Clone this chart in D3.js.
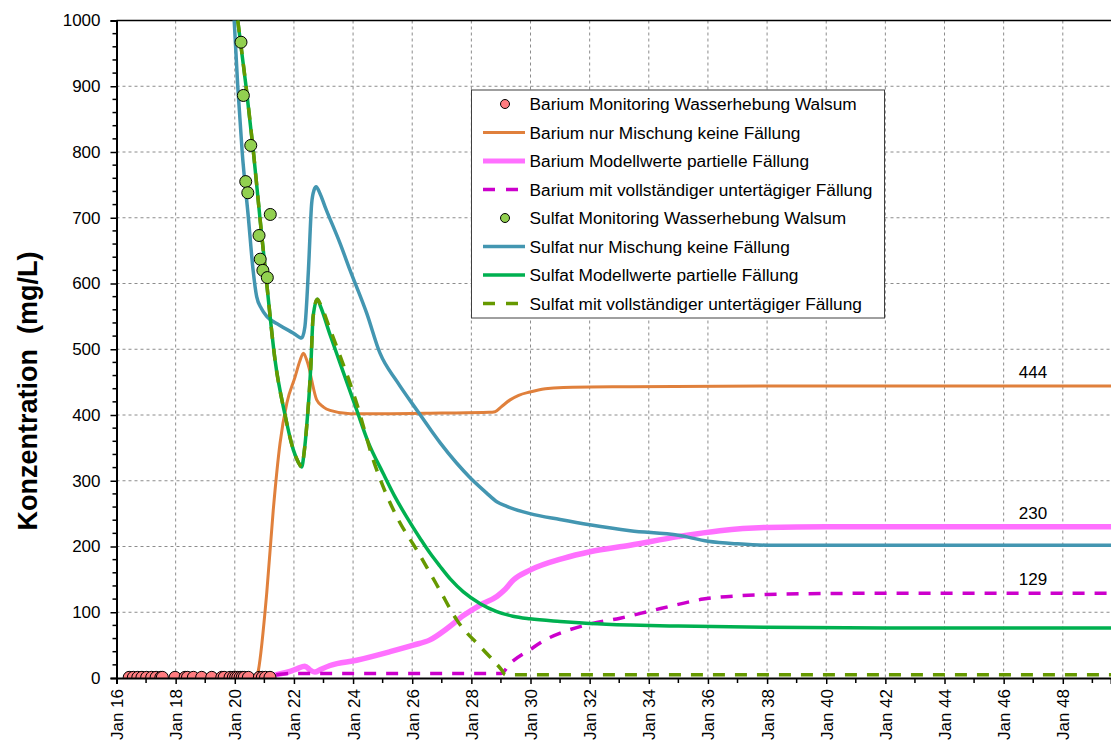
<!DOCTYPE html>
<html>
<head>
<meta charset="utf-8">
<script src="https://cdn.jsdelivr.net/npm/d3@7"></script>
<style>
  body { margin: 0; background: #fff; }
  svg { display: block; font-family: "Liberation Sans", Arial, sans-serif; }
</style>
</head>
<body>
<svg id="chart" width="1111" height="745"></svg>
<script>
// ---- Data: x = day (Jan n, counted on past month end), y = concentration in mg/L ----
const bariumMonitoring = [
  [16.43, 1], [16.57, 1], [16.72, 1], [16.86, 1], [17.02, 1], [17.19, 1], [17.34, 1], [17.50, 1], [17.55, 1],
  [17.98, 1], [18.32, 1], [18.40, 1], [18.60, 1], [18.88, 1], [19.22, 1], [19.56, 1], [19.64, 1], [19.84, 1],
  [19.95, 1], [20.03, 1], [20.10, 1], [20.18, 1], [20.25, 1], [20.32, 1], [20.46, 1], [20.83, 1], [20.93, 1],
  [21.04, 1], [21.19, 1]
];
const bariumMischung = [
  [20.74, 0], [20.80, 12], [21.08, 129], [21.30, 255], [21.53, 357], [21.76, 418], [22.04, 458], [22.20, 482],
  [22.32, 494], [22.43, 484], [22.52, 470], [22.60, 453], [22.77, 423], [23.00, 412], [23.22, 407], [23.90, 402],
  [25.00, 402], [27.00, 403], [28.60, 404], [28.80, 405], [29.00, 412], [29.31, 423], [29.60, 430], [29.98, 435],
  [30.50, 440], [31.11, 442], [33.37, 443], [38.00, 444], [49.70, 444]
];
const bariumPartiell = [
  [21.00, 0], [21.30, 4], [21.87, 10], [22.10, 14], [22.37, 18], [22.55, 12], [22.71, 9], [22.90, 13], [23.22, 19],
  [24.12, 27], [25.25, 40], [26.04, 50], [26.60, 58], [27.20, 76], [27.73, 95], [28.30, 111], [28.86, 124],
  [29.10, 133], [29.42, 149], [29.98, 164], [31.11, 182], [32.01, 192], [33.37, 202], [35.00, 215], [36.40, 224],
  [38.00, 229], [40.00, 230], [49.70, 230]
];
const bariumVollstaendig = [
  [21.40, 5], [22.00, 7], [29.00, 7], [29.31, 22], [29.98, 43], [30.50, 58], [31.11, 70], [32.00, 82], [33.03, 91],
  [34.15, 103], [35.00, 112], [35.84, 120], [37.00, 125], [38.00, 127], [40.00, 128.5], [43.00, 129], [49.70, 129]
];
const sulfatMonitoring = [
  [20.21, 967], [20.29, 886], [20.37, 755], [20.44, 738], [20.54, 810], [20.82, 673], [20.86, 637],
  [20.95, 620], [21.10, 609], [21.20, 705]
];
const sulfatMischung = [
  [19.98, 1000], [20.10, 900], [20.25, 800], [20.46, 700], [20.62, 620], [20.74, 580], [20.90, 562], [21.08, 550],
  [21.50, 537], [22.00, 524], [22.26, 517], [22.37, 534], [22.49, 620], [22.60, 722], [22.68, 742], [22.75, 747],
  [22.88, 737], [23.05, 717], [23.56, 661], [23.90, 620], [24.46, 555], [24.91, 494], [25.50, 450],
  [26.21, 404], [26.60, 379], [26.94, 358], [27.50, 327], [27.95, 305], [28.50, 282], [28.86, 268], [29.20, 261],
  [29.98, 250], [31.00, 241], [32.00, 233], [33.37, 224], [35.00, 217], [36.00, 208], [37.00, 204], [38.00, 202],
  [49.70, 202]
];
const sulfatPartiell = [
  [20.10, 1000], [20.38, 900], [20.63, 800], [20.85, 700], [21.08, 600], [21.36, 484], [21.70, 400], [21.98, 347],
  [22.15, 328], [22.26, 321], [22.35, 345], [22.43, 382], [22.57, 473], [22.65, 550], [22.79, 576], [22.90, 565],
  [23.20, 525], [23.56, 479], [24.12, 408], [24.50, 360], [25.02, 311], [25.40, 277], [25.81, 245], [26.30, 210],
  [26.60, 190], [26.94, 170], [27.30, 150], [27.73, 131], [28.30, 113], [28.86, 101], [29.40, 94], [29.98, 90],
  [31.00, 86], [32.00, 83], [33.37, 80.6], [35.00, 79], [38.00, 77], [42.00, 76], [49.70, 76]
];
const sulfatVollstaendig = [
  [20.10, 1000], [20.38, 900], [20.63, 800], [20.85, 700], [21.08, 600], [21.36, 484], [21.70, 400], [21.98, 347],
  [22.15, 328], [22.26, 321], [22.35, 345], [22.43, 382], [22.57, 473], [22.65, 550], [22.79, 576], [22.90, 568],
  [23.20, 533], [23.56, 490], [23.90, 448], [24.12, 418], [24.68, 332], [25.48, 245], [26.15, 195], [26.60, 160],
  [26.94, 133], [27.51, 88], [28.40, 43], [29.03, 12], [29.15, 5], [49.70, 5]
];

const xTicks = d3.range(16, 49, 2);            // labelled days
const yTicks = d3.range(0, 1001, 100);
const endLabels = [["444", 444], ["230", 230], ["129", 129]];

const legendLabels = [
  "Barium Monitoring Wasserhebung Walsum",
  "Barium nur Mischung keine Fällung",
  "Barium Modellwerte partielle Fällung",
  "Barium mit vollständiger untertägiger Fällung",
  "Sulfat Monitoring Wasserhebung Walsum",
  "Sulfat nur Mischung keine Fällung",
  "Sulfat Modellwerte partielle Fällung",
  "Sulfat mit vollständiger untertägiger Fällung"
];

(function draw() {
  const svg = d3.select("#chart");
  const pLeft = 116.5, pRight = 1111, pTop = 20.5, pBottom = 678;

  const x = d3.scaleLinear().domain([16, 49.63]).range([pLeft, pRight]);
  const y = d3.scaleLinear().domain([0, 1000]).range([pBottom, pTop]);

  svg.append("defs").append("clipPath").attr("id", "plotClip")
    .append("rect").attr("x", pLeft).attr("y", pTop - 1)
    .attr("width", pRight - pLeft).attr("height", pBottom - pTop + 2);

  // grid
  const grid = svg.append("g");
  grid.selectAll("line.v").data(xTicks.filter(d => d > 16)).join("line").attr("class", "v")
    .attr("x1", d => x(d)).attr("x2", d => x(d)).attr("y1", pTop).attr("y2", pBottom)
    .attr("stroke", "#8c8c8c").attr("stroke-width", 1).attr("stroke-dasharray", "3,3");
  grid.selectAll("line.h").data(yTicks.filter(d => d > 0 && d < 1000)).join("line").attr("class", "h")
    .attr("x1", pLeft).attr("x2", pRight).attr("y1", d => y(d)).attr("y2", d => y(d))
    .attr("stroke", "#8c8c8c").attr("stroke-width", 1).attr("stroke-dasharray", "3,3");

  // top border
  svg.append("line").attr("x1", pLeft).attr("x2", pRight).attr("y1", pTop).attr("y2", pTop)
    .attr("stroke", "#000").attr("stroke-width", 1.5);

  // series
  const line = d3.line().x(d => x(d[0])).y(d => y(d[1])).curve(d3.curveMonotoneX);
  const plot = svg.append("g").attr("clip-path", "url(#plotClip)");

  const seriesStyles = [
    { data: bariumMischung,     color: "#e0803c", width: 3,   dash: null },
    { data: bariumPartiell,     color: "#ff70ff", width: 5.5, dash: null },
    { data: bariumVollstaendig, color: "#cc00cc", width: 3.5, dash: "12,10" },
    { data: sulfatMischung,     color: "#4396b1", width: 3.5, dash: null },
    { data: sulfatPartiell,     color: "#00b050", width: 3.5, dash: null },
    { data: sulfatVollstaendig, color: "#669900", width: 3.5, dash: "12,10" }
  ];
  seriesStyles.forEach(s => {
    plot.append("path").datum(s.data)
      .attr("d", line)
      .attr("fill", "none")
      .attr("stroke", s.color)
      .attr("stroke-width", s.width)
      .attr("stroke-dasharray", s.dash)
      .attr("stroke-linejoin", "round");
  });

  // monitoring points
  plot.append("g").selectAll("circle").data(bariumMonitoring).join("circle")
    .attr("cx", d => x(d[0])).attr("cy", d => y(d[1])).attr("r", 6)
    .attr("fill", "#ff7c80").attr("stroke", "#000").attr("stroke-width", 1);
  plot.append("g").selectAll("circle").data(sulfatMonitoring).join("circle")
    .attr("cx", d => x(d[0])).attr("cy", d => y(d[1])).attr("r", 6)
    .attr("fill", "#92d050").attr("stroke", "#000").attr("stroke-width", 1);

  // y axis
  const yAxis = d3.axisLeft(y).tickValues(yTicks).tickSize(6).tickPadding(10).tickFormat(d3.format("d"));
  const gy = svg.append("g").attr("transform", `translate(${pLeft},0)`).call(yAxis);
  gy.select(".domain").attr("stroke", "#000").attr("stroke-width", 2);
  gy.selectAll(".tick line").attr("stroke", "#000").attr("stroke-width", 1.5);
  gy.selectAll(".tick text").attr("font-size", 17).attr("fill", "#000")
    .attr("font-family", "'Liberation Sans', Arial, sans-serif");
  svg.append("g").selectAll("line").data(d3.range(20, 1000, 20).filter(v => v % 100 !== 0)).join("line")
    .attr("x1", pLeft - 4).attr("x2", pLeft).attr("y1", d => y(d)).attr("y2", d => y(d))
    .attr("stroke", "#000").attr("stroke-width", 1.5);

  // x axis
  const xAxis = d3.axisBottom(x).tickValues(xTicks).tickSize(6).tickFormat(d => "Jan " + d);
  const gx = svg.append("g").attr("transform", `translate(0,${pBottom})`).call(xAxis);
  gx.select(".domain").attr("stroke", "#000").attr("stroke-width", 2);
  gx.selectAll(".tick line").attr("stroke", "#000").attr("stroke-width", 1.5);
  gx.selectAll(".tick text")
    .attr("font-size", 17).attr("fill", "#000")
    .attr("font-family", "'Liberation Sans', Arial, sans-serif")
    .attr("text-anchor", "end")
    .attr("transform", "rotate(-90)")
    .attr("x", -11).attr("y", 0).attr("dy", "0.35em");
  svg.append("g").selectAll("line").data(d3.range(17, 50, 2)).join("line")
    .attr("x1", d => x(d)).attr("x2", d => x(d)).attr("y1", pBottom).attr("y2", pBottom + 5)
    .attr("stroke", "#000").attr("stroke-width", 1.5);

  // y title
  svg.append("text")
    .attr("transform", "translate(37,391) rotate(-90)")
    .attr("text-anchor", "middle")
    .attr("font-size", 27).attr("font-weight", "bold").attr("fill", "#000")
    .style("white-space", "pre")
    .text("Konzentration  (mg/L)");

  // end value labels
  svg.append("g").selectAll("text").data(endLabels).join("text")
    .attr("x", 1033).attr("y", d => y(d[1]) - 8)
    .attr("text-anchor", "middle").attr("font-size", 17).attr("fill", "#000")
    .text(d => d[0]);

  // legend
  const lg = svg.append("g");
  lg.append("rect").attr("x", 471.5).attr("y", 90).attr("width", 413).attr("height", 228)
    .attr("fill", "#fff").attr("stroke", "#404040").attr("stroke-width", 1);
  const legendSym = [
    { type: "dot", fill: "#ff7c80" },
    { type: "line", color: "#e0803c", width: 3 },
    { type: "line", color: "#ff70ff", width: 5 },
    { type: "dash", color: "#cc00cc", width: 3.5 },
    { type: "dot", fill: "#92d050" },
    { type: "line", color: "#4396b1", width: 3.5 },
    { type: "line", color: "#00b050", width: 3.5 },
    { type: "dash", color: "#669900", width: 3.5 }
  ];
  legendLabels.forEach((label, i) => {
    const cy = 104 + i * 28.5;
    const s = legendSym[i];
    if (s.type === "dot") {
      lg.append("circle").attr("cx", 505).attr("cy", cy).attr("r", 4.5)
        .attr("fill", s.fill).attr("stroke", "#000").attr("stroke-width", 1);
    } else {
      lg.append("line").attr("x1", 483).attr("x2", 525).attr("y1", cy).attr("y2", cy)
        .attr("stroke", s.color).attr("stroke-width", s.width)
        .attr("stroke-dasharray", s.type === "dash" ? "12,11" : null);
    }
    lg.append("text").attr("x", 529.5).attr("y", cy).attr("dy", "0.36em")
      .attr("font-size", 17.3).attr("fill", "#000").text(label);
  });
})();
</script>
</body>
</html>
